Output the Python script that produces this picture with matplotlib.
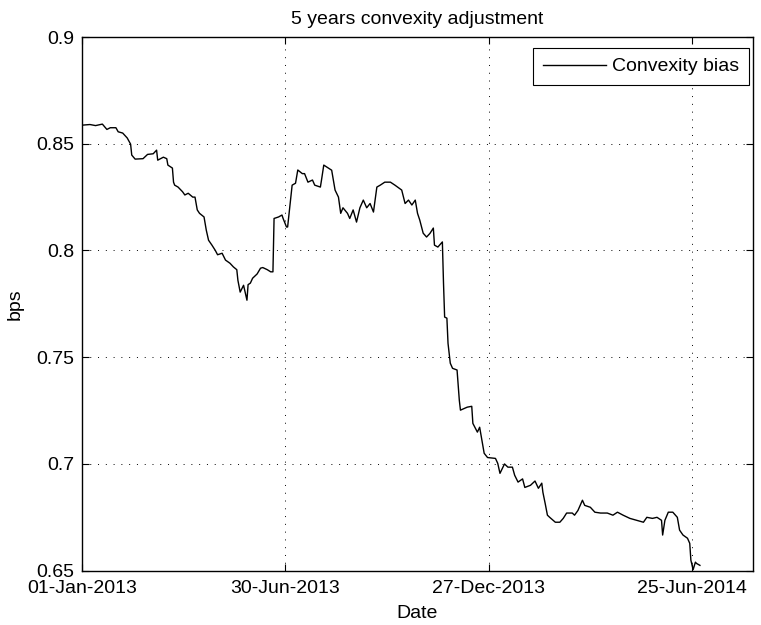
import matplotlib
matplotlib.use("Agg")
import matplotlib.pyplot as plt
import matplotlib.dates as mdates
import numpy as np
import datetime as dt

# Data: day offsets from 01-Jan-2013 and convexity bias values (bps)
start_date = "2013-01-01"
day_offsets = [0, 7, 12, 16, 18, 22, 25, 30, 32, 36, 40, 43, 44, 47, 54, 58, 63, 66, 67, 72,
               75, 76, 80, 81, 82, 85, 89, 91, 94, 98, 100, 102, 104, 108, 110, 112, 115, 118,
               120, 124, 127, 131, 134, 137, 138, 140, 143, 144, 146, 147, 149, 151, 155, 158,
               160, 164, 167, 169, 170, 174, 177, 178, 181, 182, 186, 189, 191, 195, 197, 200,
               204, 206, 211, 212, 214, 218, 221, 224, 227, 229, 231, 235, 237, 240, 243, 246,
               249, 252, 255, 258, 261, 264, 268, 273, 277, 283, 286, 289, 292, 295, 297, 299,
               302, 305, 308, 311, 312, 315, 319, 320, 321, 323, 324, 326, 328, 332, 334, 335,
               341, 345, 346, 350, 352, 354, 356, 359, 366, 368, 370, 374, 377, 381, 383, 386,
               390, 392, 397, 401, 404, 407, 408, 410, 412, 414, 419, 423, 426, 429, 434, 436,
               439, 443, 445, 450, 454, 459, 465, 470, 474, 479, 485, 491, 497, 500, 505, 509,
               513, 514, 516, 519, 523, 527, 529, 532, 536, 538, 539, 541, 543, 544, 547]
bias = [0.8587, 0.8590, 0.8585, 0.8590, 0.8592, 0.8567, 0.8575, 0.8575, 0.8556, 0.8550,
        0.8527, 0.8498, 0.8447, 0.8428, 0.8430, 0.8450, 0.8453, 0.8470, 0.8423, 0.8437,
        0.8430, 0.8400, 0.8386, 0.8320, 0.8306, 0.8297, 0.8275, 0.8260, 0.8268, 0.8250,
        0.8250, 0.8190, 0.8174, 0.8157, 0.8095, 0.8048, 0.8025, 0.8000, 0.7980, 0.7987,
        0.7955, 0.7940, 0.7923, 0.7910, 0.7860, 0.7805, 0.7837, 0.7814, 0.7767, 0.7840,
        0.7847, 0.7870, 0.7890, 0.7917, 0.7920, 0.7910, 0.7900, 0.7900, 0.8150, 0.8157,
        0.8166, 0.8150, 0.8110, 0.8110, 0.8306, 0.8315, 0.8377, 0.8360, 0.8360, 0.8320,
        0.8330, 0.8306, 0.8297, 0.8330, 0.8400, 0.8386, 0.8376, 0.8283, 0.8250, 0.8174,
        0.8200, 0.8174, 0.8150, 0.8190, 0.8133, 0.8200, 0.8236, 0.8200, 0.8220, 0.8180,
        0.8297, 0.8306, 0.8320, 0.8320, 0.8306, 0.8283, 0.8220, 0.8236, 0.8213, 0.8236,
        0.8174, 0.8142, 0.8081, 0.8063, 0.8080, 0.8105, 0.8025, 0.8016, 0.8040, 0.7847,
        0.7688, 0.7683, 0.7565, 0.7472, 0.7448, 0.7440, 0.7298, 0.7252, 0.7266, 0.7270,
        0.7190, 0.7149, 0.7172, 0.7110, 0.7050, 0.7030, 0.7026, 0.7003, 0.6956, 0.7000,
        0.6985, 0.6985, 0.6947, 0.6915, 0.6930, 0.6890, 0.6900, 0.6920, 0.6886, 0.6910,
        0.6867, 0.6815, 0.6760, 0.6750, 0.6727, 0.6727, 0.6745, 0.6770, 0.6770, 0.6760,
        0.6782, 0.6830, 0.6806, 0.6797, 0.6774, 0.6770, 0.6770, 0.6760, 0.6774, 0.6760,
        0.6745, 0.6736, 0.6727, 0.6750, 0.6745, 0.6750, 0.6736, 0.6667, 0.6736, 0.6774,
        0.6774, 0.6750, 0.6690, 0.6667, 0.6652, 0.6628, 0.6549, 0.6505, 0.6540, 0.6534,
        0.6525]
x_ticks = ["2013-01-01", "2013-06-30", "2013-12-27", "2014-06-25"]
x_tick_labels = ["01-Jan-2013", "30-Jun-2013", "27-Dec-2013", "25-Jun-2014"]
y_ticks = [0.65, 0.7, 0.75, 0.8, 0.85, 0.9]
y_tick_labels = ["0.65", "0.7", "0.75", "0.8", "0.85", "0.9"]

plt.rcParams['font.family'] = ['Liberation Sans', 'DejaVu Sans']
FS = 14

d0 = dt.datetime.strptime(start_date, "%Y-%m-%d")
dates = [d0 + dt.timedelta(days=int(d)) for d in day_offsets]
xnum = mdates.date2num(dates)

fig = plt.figure(figsize=(7.61, 6.25), dpi=100)
ax = fig.add_axes([0.1078, 0.0869, 0.8817, 0.8539])

ax.plot(xnum, bias, color='black', lw=1.0, label='Convexity bias')

tick_nums = mdates.date2num([dt.datetime.strptime(t, "%Y-%m-%d") for t in x_ticks])
ax.set_xticks(tick_nums)
ax.set_xticklabels(x_tick_labels)
ax.set_yticks(y_ticks)
ax.set_yticklabels(y_tick_labels)
ax.set_xlim(mdates.date2num(d0), mdates.date2num(d0 + dt.timedelta(days=594)))
ax.set_ylim(0.65, 0.9)

ax.grid(True, color='black', linestyle=(0, (1, 7)), lw=0.7)
ax.tick_params(direction='in', top=True, right=True, length=5, width=0.8,
               labelsize=FS, colors='black')
ax.tick_params(axis='x', pad=6.5)
ax.tick_params(axis='y', pad=5.5)
for s in ax.spines.values():
    s.set_linewidth(1.0)
    s.set_color('black')

ax.set_title("5 years convexity adjustment", fontsize=FS, pad=9)
ax.set_xlabel("Date", fontsize=FS, labelpad=6)
ax.set_ylabel("bps", fontsize=FS, labelpad=9)

leg = ax.legend(loc='upper right', bbox_to_anchor=(0.994, 0.9794), fontsize=FS,
                fancybox=False, edgecolor='black', framealpha=1, handlelength=3.25,
                borderaxespad=0, borderpad=0.5, handletextpad=0.3)
leg.get_frame().set_linewidth(0.8)

fig.savefig("out.png", dpi=100)
